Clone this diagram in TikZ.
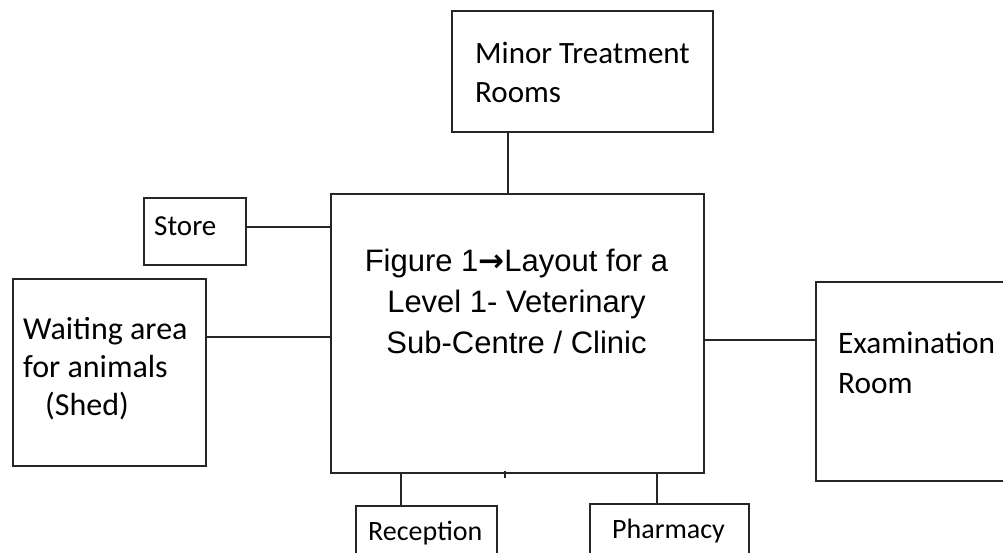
\documentclass[tikz,border=0pt]{standalone}
\usepackage{fontspec}
\setmainfont{Carlito}
\newfontfamily\figfont{Liberation Sans}
\newfontfamily\arrowfont{DejaVu Sans}
\definecolor{ink}{HTML}{262626}
\begin{document}
\begin{tikzpicture}[x=1pt,y=-1pt,
  room/.style={draw=ink, line width=2pt, rectangle, inner sep=0pt, anchor=north west},
  link/.style={draw=ink, line width=2pt},
  roomtext/.style={anchor=north west, inner sep=0pt, align=left, text=black},
  bigtext/.style={font=\fontsize{31}{39}\selectfont},
  smalltext/.style={font=\fontsize{28}{34}\selectfont},
]
\useasboundingbox (0,0) rectangle (1003,553);
\clip (0,0) rectangle (1003,553);

% rooms
\node[room, minimum width=373pt, minimum height=279pt] (centre) at (330,193) {};
\node[room, minimum width=261pt, minimum height=121pt] (treat) at (451,10) {};
\node[room, minimum width=102pt, minimum height=67pt] (store) at (143,197) {};
\node[room, minimum width=193pt, minimum height=187pt] (wait) at (12,278) {};
\node[room, minimum width=200pt, minimum height=199pt] (exam) at (815,281) {};
\node[room, minimum width=141pt, minimum height=60pt] (recep) at (355,505) {};
\node[room, minimum width=159pt, minimum height=60pt] (pharm) at (589,503) {};

% room names
\node[anchor=north, inner sep=0pt, align=center,
      font=\figfont\fontsize{31}{41}\selectfont] (title) at (516.5,249)
  {Figure 1{\arrowfont\bfseries→}Layout for a\\Level 1- Veterinary\\Sub-Centre / Clinic};
\node[roomtext, bigtext] (treatlbl) at (475,42) {Minor Treatment\\Rooms};
\node[roomtext, font=\fontsize{29}{34}\selectfont] (storelbl) at (154,216) {Store};
\node[roomtext, font=\fontsize{32}{38}\selectfont] (waitlbl) at (23,317)
  {Waiting area\\for animals\\\hspace*{22pt}(Shed)};
\node[roomtext, font=\fontsize{31.3}{40}\selectfont] (examlbl) at (838,332) {Examination\\Room};
\node[roomtext, smalltext] (receplbl) at (368,521) {Reception};
\node[roomtext, smalltext] (pharmlbl) at (612,519) {Pharmacy};

% connecting lines
\coordinate (jt) at (508,0);
\coordinate (js) at (0,227);
\coordinate (jw) at (0,337);
\coordinate (je) at (0,340);
\coordinate (jr) at (401,0);
\coordinate (jp) at (657,0);
\coordinate (tk) at (505,0);
\draw[link] (treat.south -| jt) -- (centre.north -| jt);
\draw[link] (store.east |- js) -- (centre.west |- js);
\draw[link] (wait.east |- jw) -- (centre.west |- jw);
\draw[link] (centre.east |- je) -- (exam.west |- je);
\draw[link] (centre.south -| jr) -- (recep.north -| jr);
\draw[link] (centre.south -| jp) -- (pharm.north -| jp);
\draw[link, line width=1.5pt] (centre.south -| tk) ++(0,-3) -- ++(0,7);
\end{tikzpicture}
\end{document}
